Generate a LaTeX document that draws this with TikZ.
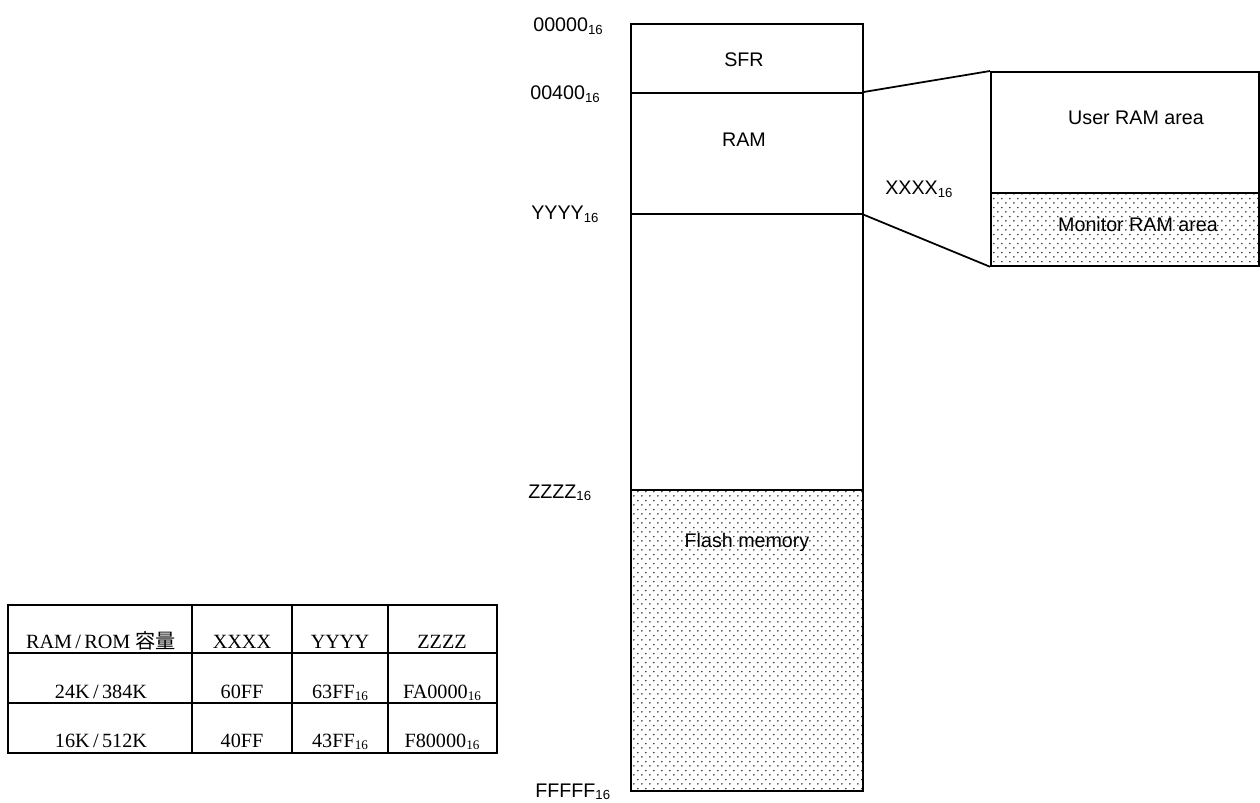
\documentclass[tikz,border=0pt]{standalone}
\usepackage{fontspec}
\usepackage{tikz}
\usetikzlibrary{patterns}
\setmainfont{Liberation Serif}
\newfontfamily\labelfont{Liberation Sans}
\newfontfamily\cjk{Noto Sans CJK JP}
\newcommand{\hexsub}[1]{\raisebox{-0.25ex}{\fontsize{7.5}{8}\selectfont #1}}
\pgfdeclarepatternformonly{stipple}{\pgfpointorigin}{\pgfqpoint{4.5pt}{5pt}}{\pgfqpoint{4.5pt}{5pt}}{%
  \pgfpathcircle{\pgfqpoint{1.1pt}{1.2pt}}{0.5pt}%
  \pgfpathcircle{\pgfqpoint{3.35pt}{3.7pt}}{0.5pt}%
  \pgfusepath{fill}}

\begin{document}
\begin{tikzpicture}[
    x=0.02cm, y=-0.02cm,
    region/.style={rectangle, draw, line width=1pt, minimum width=4.64cm, inner sep=0pt, anchor=north west},
    dotted area/.style={pattern=stipple, pattern color=black!80},
    memtxt/.style={anchor=base, font=\labelfont\fontsize{11.2}{13}\selectfont},
    addr/.style={anchor=base west, font=\labelfont\fontsize{11.2}{13}\selectfont, inner sep=0pt},
    cell/.style={anchor=base, font=\fontsize{11.5}{13}\selectfont, inner sep=0pt},
    tbl/.style={line width=1.2pt},
    link/.style={line width=1pt}
]
\useasboundingbox (0,0) rectangle (1260,803);

% memory map
\node[region, minimum height=1.38cm] (sfr) at (630,23) {};
\node[region, minimum height=2.42cm] (ram) at (630,92) {};
\node[region, minimum height=5.52cm] (free) at (630,213) {};
\node[region, minimum height=6.02cm, dotted area] (flash) at (630,489) {};

\node[memtxt] (sfrtxt) at (744,67) {SFR};
\node[memtxt] (ramtxt) at (744,147) {RAM};
\node[memtxt] (flashtxt) at (747,547) {Flash memory};

% addresses
\node[addr] (a0) at (533,32) {00000\hexsub{16}};
\node[addr] (a1) at (530,100) {00400\hexsub{16}};
\node[addr] (ay) at (531,220) {YYYY\hexsub{16}};
\node[addr] (az) at (528,498) {ZZZZ\hexsub{16}};
\node[addr] (af) at (535,797) {FFFFF\hexsub{16}};
\node[addr] (ax) at (885,195) {XXXX\hexsub{16}};

% RAM detail
\node[region, minimum width=5.36cm, minimum height=2.42cm] (user) at (990,71) {};
\node[region, minimum width=5.36cm, minimum height=1.46cm, dotted area] (monitor) at (990,192) {};
\node[memtxt] (usertxt) at (1136,125) {User RAM area};
\node[memtxt] (montxt) at (1138,232) {Monitor RAM area};

\draw[link] (ram.north east) -- (user.north west);
\draw[link] (ram.south east) -- (monitor.south west);

% table
\draw[tbl] (8,605) rectangle (497,753);
\draw[tbl] (8,653) -- (497,653);
\draw[tbl] (8,703) -- (497,703);
\foreach \cx in {192,292,388}
  \draw[tbl] (\cx,605) -- (\cx,753);

\node[cell] (h1) at (101,648) {RAM\,/\,ROM {\cjk 容量}};
\node[cell] (h2) at (242,648) {XXXX};
\node[cell] (h3) at (340,648) {YYYY};
\node[cell] (h4) at (442,648) {ZZZZ};
\node[cell] (r11) at (101,698) {24K\,/\,384K};
\node[cell] (r12) at (242,698) {60FF};
\node[cell] (r13) at (340,698) {63FF\hexsub{16}};
\node[cell] (r14) at (442,698) {FA0000\hexsub{16}};
\node[cell] (r21) at (101,747) {16K\,/\,512K};
\node[cell] (r22) at (242,747) {40FF};
\node[cell] (r23) at (340,747) {43FF\hexsub{16}};
\node[cell] (r24) at (442,747) {F80000\hexsub{16}};
\end{tikzpicture}
\end{document}
